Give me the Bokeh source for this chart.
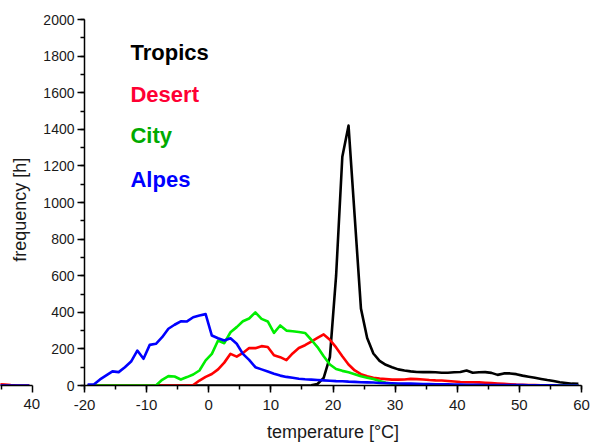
import numpy as np
from bokeh.plotting import figure
from bokeh.layouts import row
from bokeh.models import (Range1d, SingleIntervalTicker, FixedTicker, Label,
                          PrintfTickFormatter)
from bokeh.embed import file_html
from bokeh.resources import INLINE

# hourly temperature histogram, 1 °C bins (bin centres)
temperature = np.arange(-19.5, 60.0, 1.0)

tropics = [
    0, 0, 0, 0, 0, 0, 0, 0, 0, 0,
    0, 0, 0, 0, 0, 0, 0, 0, 0, 0,
    0, 0, 0, 0, 0, 0, 0, 0, 0, 0,
    0, 0, 0, 0, 0, 0, 1, 8, 42, 155,
    600, 1250, 1420, 920, 420, 260, 175, 135, 113, 100,
    88, 82, 77, 74, 73, 73, 72, 70, 70, 72,
    74, 82, 70, 72, 73, 69, 58, 66, 66, 62,
    54, 48, 42, 36, 30, 25, 18, 14, 10, 9,
]
desert = [
    0, 0, 0, 0, 0, 0, 0, 0, 0, 0,
    0, 0, 0, 0, 0, 0, 0, 2, 27, 47,
    63, 88, 125, 173, 158, 178, 205, 204, 215, 210,
    165, 155, 139, 175, 205, 220, 240, 260, 279, 250,
    208, 160, 115, 82, 62, 50, 42, 38, 35, 32,
    32, 33, 36, 35, 33, 30, 28, 27, 25, 22,
    19, 18, 18, 17, 15, 13, 11, 9, 7, 5,
    4, 3, 2, 1, 1, 0, 0, 0, 0, 0,
]
city = [
    0, 0, 0, 0, 0, 0, 0, 0, 0, 0,
    0, 0, 31, 51, 49, 33, 46, 60, 82, 137,
    173, 246, 231, 291, 319, 351, 366, 400, 364, 350,
    288, 328, 300, 296, 292, 287, 250, 210, 160, 115,
    90, 80, 72, 62, 50, 42, 35, 25, 15, 10,
    7, 5, 4, 3, 2, 2, 1, 1, 1, 0,
    0, 0, 0, 0, 0, 0, 0, 0, 0, 0,
    0, 0, 0, 0, 0, 0, 0, 0, 0, 0,
]
alpes = [
    5, 5, 33, 55, 77, 73, 100, 131, 191, 146,
    222, 228, 264, 310, 332, 351, 350, 373, 382, 390,
    273, 258, 246, 258, 228, 173, 140, 100, 88, 76,
    64, 54, 47, 42, 37, 34, 32, 30, 28, 26,
    24, 23, 21, 20, 18, 17, 16, 14, 13, 12,
    11, 10, 10, 9, 8, 8, 7, 6, 6, 5,
    5, 4, 4, 4, 3, 3, 3, 2, 2, 2,
    2, 1, 1, 1, 1, 1, 0, 0, 0, 0,
]

series_names = ["Tropics", "Desert", "City", "Alpes"]
series_values = [tropics, desert, city, alpes]
line_colors = ["#000000", "#FF0000", "#00EE00", "#0000FF"]
label_colors = ["#000000", "#FF0033", "#00AA00", "#0000FF"]
label_levels = [1818, 1590, 1366, 1128]

# tail of the neighbouring panel at the left edge
left_temp = [34.5, 35.5, 36.5, 37.5, 38.5, 39.5]
left_red = [8, 5, 2, 0, 0, 0]
left_blue = [0, 0, 0, 0, 0, 0]

FONT = "Liberation Sans"


def style_axis(ax, size="15px"):
    ax.axis_line_width = 1.5
    ax.axis_line_color = "black"
    ax.major_tick_line_width = 1.5
    ax.minor_tick_line_width = 1.5
    ax.major_tick_in = 0
    ax.major_tick_out = 7
    ax.minor_tick_in = 0
    ax.minor_tick_out = 4
    ax.major_label_text_font = FONT
    ax.major_label_text_font_size = size
    ax.major_label_text_color = "#1a1a1a"
    ax.formatter = PrintfTickFormatter(format="%d")


# ---- neighbouring panel strip ----
pl = figure(width=40, height=446, output_backend="svg", toolbar_location=None,
            x_range=Range1d(40 - 32 / 6.225, 40), y_range=Range1d(0, 2000),
            y_axis_location=None, min_border_left=0, min_border_right=8,
            min_border_top=19, min_border_bottom=59)
pl.outline_line_color = None
pl.grid.visible = False
pl.xaxis.ticker = FixedTicker(ticks=[40], minor_ticks=[35])
style_axis(pl.xaxis[0])
pl.xaxis.major_label_standoff = 6
pl.line(left_temp, left_red, line_color="#FF0000", line_width=2.6)
pl.line(left_temp, left_blue, line_color="#0000FF", line_width=2.6)
pl.add_layout(Label(x=38.0, y=960, text="frequency [h]", angle=np.pi / 2,
                    text_align="center", text_baseline="middle",
                    text_font=FONT, text_font_size="18px", text_color="#1a1a1a"))

# ---- main panel ----
p = figure(width=553, height=446, output_backend="svg", toolbar_location=None,
           x_range=Range1d(-20, 60), y_range=Range1d(0, 2000),
           min_border_left=43, min_border_right=12,
           min_border_top=19, min_border_bottom=61)
p.outline_line_color = None
p.grid.visible = False
p.xaxis.ticker = SingleIntervalTicker(interval=10, num_minor_ticks=2)
p.yaxis.ticker = SingleIntervalTicker(interval=200, num_minor_ticks=2)
style_axis(p.xaxis[0])
style_axis(p.yaxis[0], size="14px")
p.xaxis.major_label_standoff = 7
p.yaxis.major_label_standoff = 3
p.xaxis.axis_label = "temperature [°C]"
p.xaxis.axis_label_text_font = FONT
p.xaxis.axis_label_text_font_size = "18px"
p.xaxis.axis_label_text_font_style = "normal"
p.xaxis.axis_label_text_color = "#1a1a1a"
p.xaxis.axis_label_standoff = 9

for vals, col in zip(series_values, line_colors):
    p.line(temperature, vals, line_color=col, line_width=2.6, line_join="round")

for name, col, lvl in zip(series_names, label_colors, label_levels):
    p.add_layout(Label(x=-12.6, y=lvl, text=name, text_color=col,
                       text_font=FONT, text_font_size="22px",
                       text_font_style="bold", text_baseline="alphabetic"))

layout = row(pl, p)
open("out.html", "w").write(file_html(layout, INLINE))
